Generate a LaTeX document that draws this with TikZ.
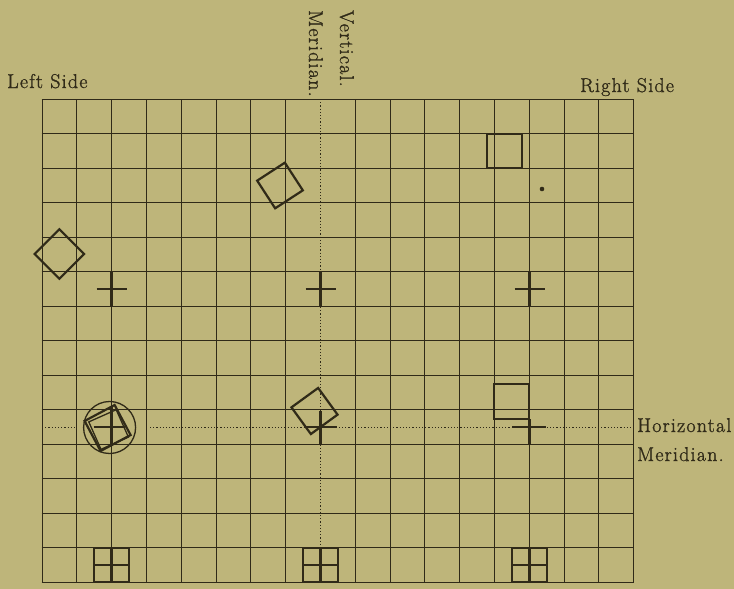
\documentclass[tikz,border=0pt]{standalone}
\usepackage{fontspec}
\newfontfamily\lblfont{Latin Modern Roman}[FakeBold=1.2, LetterSpace=6]
\definecolor{paper}{RGB}{190,181,122}
\definecolor{ink}{RGB}{48,42,24}
\begin{document}
\begin{tikzpicture}[x=1pt,y=-1pt,
  gridline/.style={draw=ink, line width=1.3pt},
  meridian/.style={draw=ink, line width=1pt, dash pattern=on 1.2pt off 2pt},
  figline/.style={draw=ink, line width=2.2pt, line join=miter},
  ringline/.style={draw=ink, line width=1.3pt},
  crossline/.style={draw=ink, line width=2.2pt},
  winline/.style={draw=ink, line width=2.5pt},
  lbl/.style={text=ink, font=\lblfont\fontsize{20}{24}\selectfont, inner sep=0pt}]
\fill[paper] (0,0) rectangle (734,589);
\useasboundingbox (0,0) rectangle (734,589);
% grid
\foreach \k in {0,1,2,3,4,5,6,7,9,10,11,12,13,14,15,16,17}
  \draw[gridline] ({floor(42+34.8*\k)+0.5},99) -- ({floor(42+34.8*\k)+0.5},582.5);
\foreach \j in {0,...,14}
  \draw[gridline] (41.5,{floor(99+34.5*\j)+0.5}) -- (634,{floor(99+34.5*\j)+0.5});
% meridians
\draw[meridian] (320.5,99) -- (320.5,582);
\draw[meridian] (42,427) -- (76,427);
\draw[meridian] (150,427) -- (633,427);
% labels
\node[lbl, anchor=base west] (leftside) at (7,88) {Left Side};
\node[lbl, anchor=base west] (rightside) at (580,92) {Right Side};
\node[lbl, anchor=base west, rotate=-90] (vert) at (340,10) {Vertical.};
\node[lbl, anchor=base west, rotate=-90] (vmer) at (309,10) {Meridian.};
\node[lbl, anchor=base west] (horiz) at (637,432) {Horizontal};
\node[lbl, anchor=base west] (hmer) at (637,461) {Meridian.};
% upper crosses
\foreach \cx in {111.5,320.5,529.5}{
  \draw[crossline] ({\cx-15},289) -- ({\cx+15},289);
  \draw[crossline] (\cx,272) -- (\cx,306);
}
% top right square and dot
\draw[figline] (487,134) rectangle (522,168);
\fill[ink] (542,189) circle[radius=2.3];
% top middle tilted square
\draw[figline, rotate around={33:(280,185.5)}] (263.5,169) rectangle (296.5,202);
% left diamond
\draw[figline, rotate around={45:(59.4,254)}] (41.9,236.5) rectangle (76.9,271.5);
% lower left: circle, tilted squares, cross
\draw[ringline] (109.6,427.5) circle[radius=26];
\draw[figline, rotate around={28:(107.6,428)}] (90.6,411) rectangle (124.6,445);
\draw[ringline, rotate around={24:(108.6,429.5)}] (93.6,414.5) rectangle (123.6,444.5);
\draw[crossline] (93.5,427) -- (124.5,427);
\draw[crossline] (111.5,407) -- (111.5,445);
% lower middle tilted square and cross
\draw[figline, rotate around={36:(314.5,411)}] (298,394.5) rectangle (331,427.5);
\draw[crossline] (305,427) -- (337,427);
\draw[crossline] (320.5,411) -- (320.5,444);
% lower right square and cross
\draw[figline] (494,384) rectangle (529,419);
\draw[crossline] (512,427) -- (546,427);
\draw[crossline] (529.5,419) -- (529.5,444);
% bottom windows
\foreach \cx in {111.5,320.5,529.5}{
  \draw[winline] ({\cx-17.5},548) rectangle ({\cx+17.5},582);
  \draw[winline] (\cx,548) -- (\cx,582);
  \draw[winline] ({\cx-17.5},565) -- ({\cx+17.5},565);
}
\end{tikzpicture}
\end{document}
